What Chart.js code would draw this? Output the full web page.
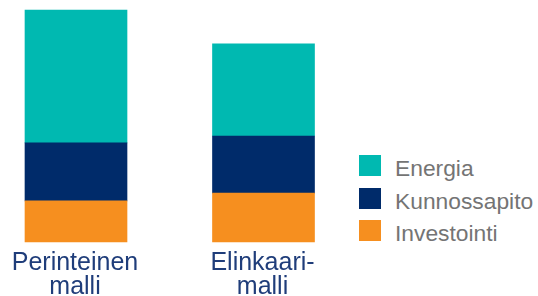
<!DOCTYPE html>
<html>
<head>
<meta charset="utf-8">
<script src="https://cdn.jsdelivr.net/npm/chart.js@4/dist/chart.umd.min.js"></script>
<style>
    html, body { margin: 0; padding: 0; background: #ffffff; }
    #wrap { position: relative; width: 538px; height: 296px; overflow: hidden; }
    #chart-box { position: absolute; left: 0; top: 0; width: 340px; height: 296px; }
    #legend { position: absolute; left: 359px; top: 155px; font-family: "Liberation Sans", Arial, sans-serif; font-size: 22.8px; color: #747474; }
    .legend-row { display: flex; align-items: flex-start; height: 32.5px; }
    .legend-box { width: 22px; height: 21px; flex: none; }
    .legend-text { margin-left: 14px; line-height: 21px; position: relative; top: 3px; white-space: nowrap; }
</style>
</head>
<body>
<div id="wrap">
    <div id="chart-box"><canvas id="cost-chart" width="340" height="296"></canvas></div>
    <div id="legend"></div>
</div>
<script>
// Categories (x axis labels, split over two lines)
const categories = [['Perinteinen', 'malli'], ['Elinkaari-', 'malli']];

// Series values (share of the traditional model's total, %)
const investointi = [17.7, 21.1];
const kunnossapito = [25.0, 24.6];
const energia = [57.3, 39.7];

const seriesNames = ['Investointi', 'Kunnossapito', 'Energia'];
const seriesColors = ['#f68f1f', '#002b6a', '#00b9b1'];

const datasets = [investointi, kunnossapito, energia].map((values, i) => ({
    label: seriesNames[i],
    data: values,
    backgroundColor: seriesColors[i],
    borderWidth: 0,
    barThickness: 102,
    clip: false
}));

const chart = new Chart(document.getElementById('cost-chart').getContext('2d'), {
    type: 'bar',
    data: {
        labels: categories,
        datasets: datasets
    },
    options: {
        responsive: false,
        animation: false,
        layout: {
            padding: { left: 76, right: 76.5, top: 10, bottom: 0 }
        },
        plugins: {
            legend: { display: false },
            tooltip: { enabled: false }
        },
        scales: {
            x: {
                stacked: true,
                offset: false,
                grid: { display: false, drawTicks: false },
                border: { display: false },
                ticks: {
                    padding: 9,
                    color: '#1f3d7a',
                    maxRotation: 0,
                    autoSkip: false,
                    labelOffset: -1,
                    font: { family: '"Liberation Sans", Arial, sans-serif', size: 25, lineHeight: 0.96 }
                },
                afterFit: (scale) => { scale.height = 54; }
            },
            y: {
                stacked: true,
                display: false,
                min: 0,
                max: 100
            }
        }
    }
});

// Build the legend from the chart's datasets, top to bottom as in the stack
const legendEl = document.getElementById('legend');
[...chart.data.datasets].reverse().forEach(ds => {
    const row = document.createElement('div');
    row.className = 'legend-row';
    row.innerHTML = `<span class="legend-box" style="background:${ds.backgroundColor}"></span><span class="legend-text">${ds.label}</span>`;
    legendEl.appendChild(row);
});
</script>
</body>
</html>
